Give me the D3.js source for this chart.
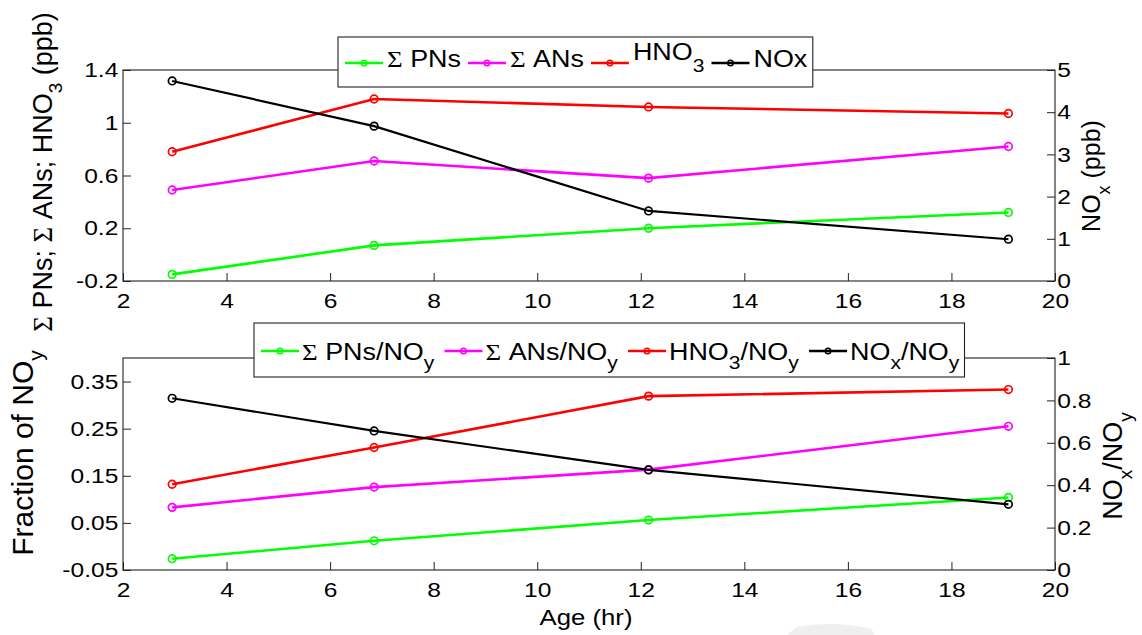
<!DOCTYPE html>
<html>
<head>
<meta charset="utf-8">
<script src="https://cdn.jsdelivr.net/npm/d3@7"></script>
<style>
  body { margin: 0; background: #fff; }
  svg text { font-family: "Liberation Sans", Arial, sans-serif; }
</style>
</head>
<body>
<svg id="chart" width="1142" height="635"></svg>
<script>
// age of the air mass (hr)
const age = [2.95, 6.85, 12.15, 19.1];

// top panel, mixing ratios (ppb)
const pnsPpb = [-0.15, 0.07, 0.2, 0.32];
const ansPpb = [0.49, 0.71, 0.58, 0.82];
const hno3Ppb = [0.78, 1.18, 1.12, 1.07];
const noxPpb = [4.74, 3.67, 1.66, 0.99];

// bottom panel, fractions of NOy
const pnsFrac = [-0.026, 0.012, 0.056, 0.104];
const ansFrac = [0.083, 0.126, 0.163, 0.255];
const hno3Frac = [0.132, 0.21, 0.319, 0.333];
const noxFrac = [0.81, 0.656, 0.472, 0.31];

// ticks
const xTicks = [2, 4, 6, 8, 10, 12, 14, 16, 18, 20];
const topLeftTicks = [-0.2, 0.2, 0.6, 1, 1.4];
const topLeftLabels = ["-0.2", "0.2", "0.6", "1", "1.4"];
const topRightTicks = [0, 1, 2, 3, 4, 5];
const botLeftTicks = [-0.05, 0.05, 0.15, 0.25, 0.35];
const botLeftLabels = ["-0.05", "0.05", "0.15", "0.25", "0.35"];
const botRightTicks = [0, 0.2, 0.4, 0.6, 0.8, 1];
const botRightLabels = ["0", "0.2", "0.4", "0.6", "0.8", "1"];

const topLegend = ["Σ PNs", "Σ ANs", "HNO_3", "NOx"];
const botLegend = ["Σ PNs/NO_y", "Σ ANs/NO_y", "HNO_3/NO_y", "NO_x/NO_y"];
const colors = ["#00ff00", "#ff00ff", "#ff0000", "#000000"];

const FONT = '"Liberation Sans", Arial, sans-serif';
const SX = 1.17;   // the original figure is a bit wider than tall
const left = 123, right = 1055;

const svg = d3.select("#chart");

const x = d3.scaleLinear().domain([2, 20]).range([left, right]);

// write a string into a text element: "_c" makes c a subscript, Σ uses a serif face
function richText(text, str, subSize, subShift) {
    const re = /_(.)|([^_]+)/g;
    let m, pending = 0;
    while ((m = re.exec(str)) !== null) {
        if (m[1]) {
            text.append("tspan").attr("font-size", subSize).attr("dy", subShift).text(m[1]);
            pending = -subShift;
        } else {
            m[2].split(/(Σ)/).filter(s => s.length).forEach(s => {
                const t = text.append("tspan").text(s);
                if (s === "Σ") t.attr("font-family", '"Liberation Serif", "Times New Roman", serif');
                if (pending) { t.attr("dy", pending); pending = 0; }
            });
        }
    }
}

function styleAxis(a) {
    a.select(".domain").remove();
    a.attr("font-family", FONT).attr("font-size", 21);
    a.selectAll("text").attr("transform", `scale(${SX},1)`).attr("fill", "#000");
    a.selectAll(".tick line").attr("stroke", "#222");
}

function drawPanel(opts) {
    const { top, bottom, leftDomain, rightDomain, leftTicks, leftLabels,
            rightTicks, rightLabels, leftSeries, rightSeries } = opts;

    const y = d3.scaleLinear().domain(leftDomain).range([bottom, top]);
    const y2 = d3.scaleLinear().domain(rightDomain).range([bottom, top]);

    const g = svg.append("g");

    // x axis, ticks pointing in
    g.append("g")
        .attr("transform", `translate(0, ${bottom})`)
        .call(d3.axisBottom(x).tickValues(xTicks).tickSizeInner(-8).tickSizeOuter(0).tickPadding(12))
        .call(styleAxis);

    // left axis
    g.append("g")
        .attr("transform", `translate(${left}, 0)`)
        .call(d3.axisLeft(y).tickValues(leftTicks).tickFormat((d, i) => leftLabels[i])
            .tickSizeInner(-8).tickSizeOuter(0).tickPadding(4))
        .call(styleAxis);

    // right axis
    g.append("g")
        .attr("transform", `translate(${right}, 0)`)
        .call(d3.axisRight(y2).tickValues(rightTicks).tickFormat((d, i) => rightLabels[i])
            .tickSizeInner(-8).tickSizeOuter(0).tickPadding(2))
        .call(styleAxis);

    // box
    g.append("rect")
        .attr("x", left).attr("y", top)
        .attr("width", right - left).attr("height", bottom - top)
        .attr("fill", "none").attr("stroke", "#222").attr("stroke-width", 1.1);

    const series = leftSeries.map((vals, i) => ({ vals, scale: y, color: colors[i], w: 2.6 }))
        .concat([{ vals: rightSeries, scale: y2, color: colors[3], w: 2.2 }]);

    series.forEach(s => {
        const pts = s.vals.map((v, i) => [age[i], v]);
        const line = d3.line().x(d => x(d[0])).y(d => s.scale(d[1]));
        g.append("path")
            .attr("d", line(pts))
            .attr("fill", "none")
            .attr("stroke", s.color)
            .attr("stroke-width", s.w);
        g.selectAll(null)
            .data(pts)
            .join("circle")
            .attr("cx", d => x(d[0]))
            .attr("cy", d => s.scale(d[1]))
            .attr("r", 3.8)
            .attr("fill", "none")
            .attr("stroke", s.color)
            .attr("stroke-width", 1.7);
    });
}

function drawLegend(x0, y0, h, labels, baseOff, raise, subShift, textGap, itemGap) {
    const lg = svg.append("g");
    const box = lg.append("rect")
        .attr("x", x0).attr("y", y0).attr("height", h)
        .attr("fill", "#fff").attr("stroke", "#222").attr("stroke-width", 1.1);

    let cx = x0 + 7;
    labels.forEach((lab, i) => {
        const ly = y0 + h / 2 + 1;
        lg.append("line")
            .attr("x1", cx).attr("x2", cx + 38)
            .attr("y1", ly).attr("y2", ly)
            .attr("stroke", colors[i]).attr("stroke-width", 2.4);
        lg.append("circle")
            .attr("cx", cx + 19).attr("cy", ly).attr("r", 2.8)
            .attr("fill", "none").attr("stroke", colors[i]).attr("stroke-width", 1.4);
        const ty = y0 + baseOff - (lab.includes("_") ? raise : 0);
        const t = lg.append("text")
            .attr("transform", `translate(${cx + 38 + textGap}, ${ty}) scale(${SX},1)`)
            .attr("font-size", 23)
            .attr("fill", "#000");
        richText(t, lab, 18, subShift);
        cx += 38 + textGap + t.node().getBBox().width * SX + itemGap;
    });
    box.attr("width", cx - x0 - itemGap + 5);
}

drawPanel({
    top: 70, bottom: 281,
    leftDomain: [-0.2, 1.4], rightDomain: [0, 5],
    leftTicks: topLeftTicks, leftLabels: topLeftLabels,
    rightTicks: topRightTicks, rightLabels: topRightTicks.map(String),
    leftSeries: [pnsPpb, ansPpb, hno3Ppb], rightSeries: noxPpb
});

drawPanel({
    top: 358, bottom: 570,
    leftDomain: [-0.05, 0.4], rightDomain: [0, 1],
    leftTicks: botLeftTicks, leftLabels: botLeftLabels,
    rightTicks: botRightTicks, rightLabels: botRightLabels,
    leftSeries: [pnsFrac, ansFrac, hno3Frac], rightSeries: noxFrac
});

drawLegend(338, 37, 50, topLegend, 30, 7, 12, 4, 7);
drawLegend(254, 323, 54, botLegend, 37, 0, 9, 3, 10);

// axis titles
function axisTitle(tx, ty, rot, str, size, sx) {
    const t = svg.append("text")
        .attr("transform", `translate(${tx}, ${ty}) scale(${sx},1) rotate(${rot})`)
        .attr("text-anchor", "middle")
        .attr("font-size", size)
        .attr("fill", "#000");
    richText(t, str, Math.round(size * 0.7), 10);
}

axisTitle(52, 172, -90, "Σ PNs; Σ ANs; HNO_3 (ppb)", 27, 1);
axisTitle(1100, 176, -90, "NO_x (ppb)", 25, 1);
axisTitle(33, 453, -90, "Fraction of NO_y", 30, 1);
axisTitle(1122, 466, -90, "NO_x/NO_y", 27, 1);
axisTitle(586, 625, 0, "Age (hr)", 22, SX);

// faint mark at the bottom edge of the scan
svg.append("path")
    .attr("d", "M787,635 L797,627 Q832,620 872,629 L874,635 Z")
    .attr("fill", "#efefef");
</script>
</body>
</html>
